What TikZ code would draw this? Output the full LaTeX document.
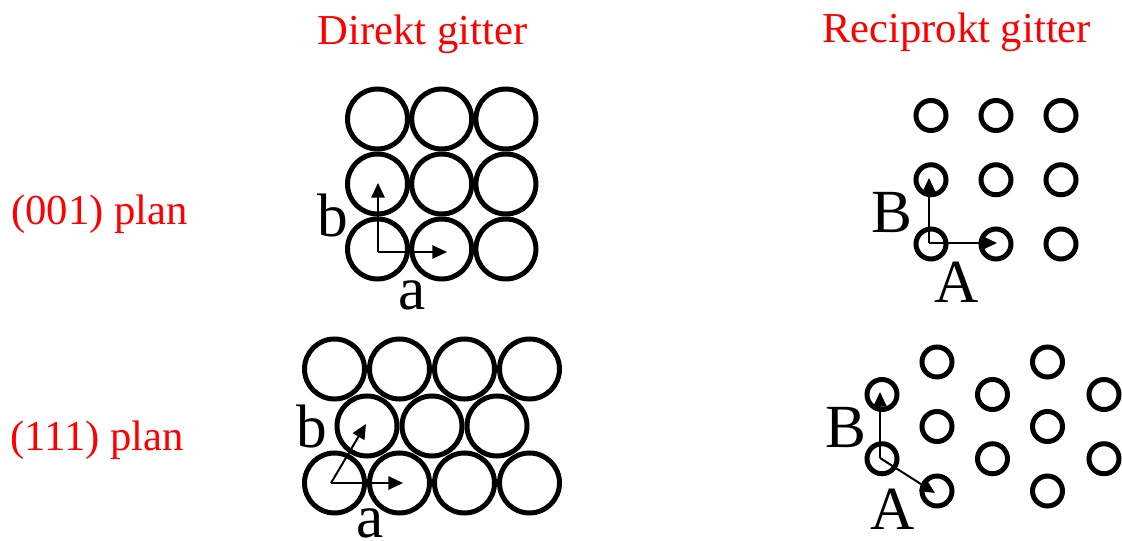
\documentclass[tikz,border=0pt]{standalone}
\usepackage{fontspec}
\setmainfont{Liberation Serif}
\usetikzlibrary{arrows.meta}
\begin{document}
\begin{tikzpicture}[x=0.75pt,y=-0.75pt,
  atom/.style={circle,draw,line width=3.75pt,minimum size=45pt,inner sep=0pt},
  spot/.style={circle,draw,line width=3.75pt,minimum size=22.5pt,inner sep=0pt},
  vec/.style={line width=1.5pt,-{Triangle[length=11pt,width=10pt]}},
  heading/.style={text=red,font=\fontsize{32}{38}\selectfont,anchor=base,inner sep=0pt},
  axislabel/.style={font=\fontsize{46}{50}\selectfont,anchor=base,inner sep=0pt,text depth=0pt}]
\useasboundingbox (0,0) rectangle (1122,541);

% headings
\node[heading] (hdirect) at (422.5,45) {Direkt gitter};
\node[heading] (hrecip) at (956.5,43) {Reciprokt gitter};
\node[heading] (p001) at (99.5,225) {(001) plan};
\node[heading] (p111) at (97,451) {(111) plan};

% (001) direct lattice: square packing of atoms
\foreach \i in {0,1,2}
  \foreach \j in {0,1,2}
    \node[atom] (sq-\i-\j) at ({377.5+64.2*\i},{119+65*\j}) {};
\coordinate (sqO) at (378,252);
\coordinate (sqA) at (447,252);
\coordinate (sqB) at (378,183);
\draw[vec] (sqO) -- (sqA);
\draw[vec] (sqO) -- (sqB);
\node[axislabel] (sqa) at (412.5,310) {a};
\node[axislabel] (sqb) at (333,237) {b};

% (111) direct lattice: close packing of atoms
\foreach \i in {0,1,2,3} {
  \node[atom] (hx-\i-0) at ({334.5+65*\i},369) {};
  \node[atom] (hx-\i-2) at ({334.5+65*\i},483) {};
}
\foreach \i in {0,1,2}
  \node[atom] (hx-\i-1) at ({367+65*\i},426) {};
\coordinate (hxO) at (331,483);
\coordinate (hxA) at (403,483);
\coordinate (hxB) at (366,424);
\draw[vec] (hxO) -- (hxA);
\draw[vec] (hxO) -- (hxB);
\node[axislabel] (hxa) at (370.5,538) {a};
\node[axislabel] (hxb) at (311.5,448) {b};

% (001) reciprocal lattice
\foreach \i in {0,1,2}
  \foreach \j in {0,1,2}
    \node[spot] (rs-\i-\j) at ({931+65*\i},{115.5+64.25*\j}) {};
\coordinate (rsO) at (929,243);
\coordinate (rsA) at (997,243);
\coordinate (rsB) at (929,178);
\draw[vec] (rsO) -- (rsA);
\draw[vec] (rsO) -- (rsB);
\node[axislabel] (rsAl) at (956.5,303) {A};
\node[axislabel] (rsBl) at (891.5,233) {B};

% (111) reciprocal lattice
\foreach \i/\x in {0/882,2/992.5,4/1104}
  \foreach \j in {0,1}
    \node[spot] (rh-\i-\j) at (\x,{394.5+64.25*\j}) {};
\foreach \i/\x in {1/937,3/1047.5}
  \foreach \j in {0,1,2}
    \node[spot] (rh-\i-\j) at (\x,{362+64.5*\j}) {};
\coordinate (rhO) at (880,458);
\coordinate (rhA) at (935,493);
\coordinate (rhB) at (880,392);
\draw[vec] (rhO) -- (rhA);
\draw[vec] (rhO) -- (rhB);
\node[axislabel] (rhAl) at (892.5,530) {A};
\node[axislabel] (rhBl) at (845.5,448) {B};
\end{tikzpicture}
\end{document}
